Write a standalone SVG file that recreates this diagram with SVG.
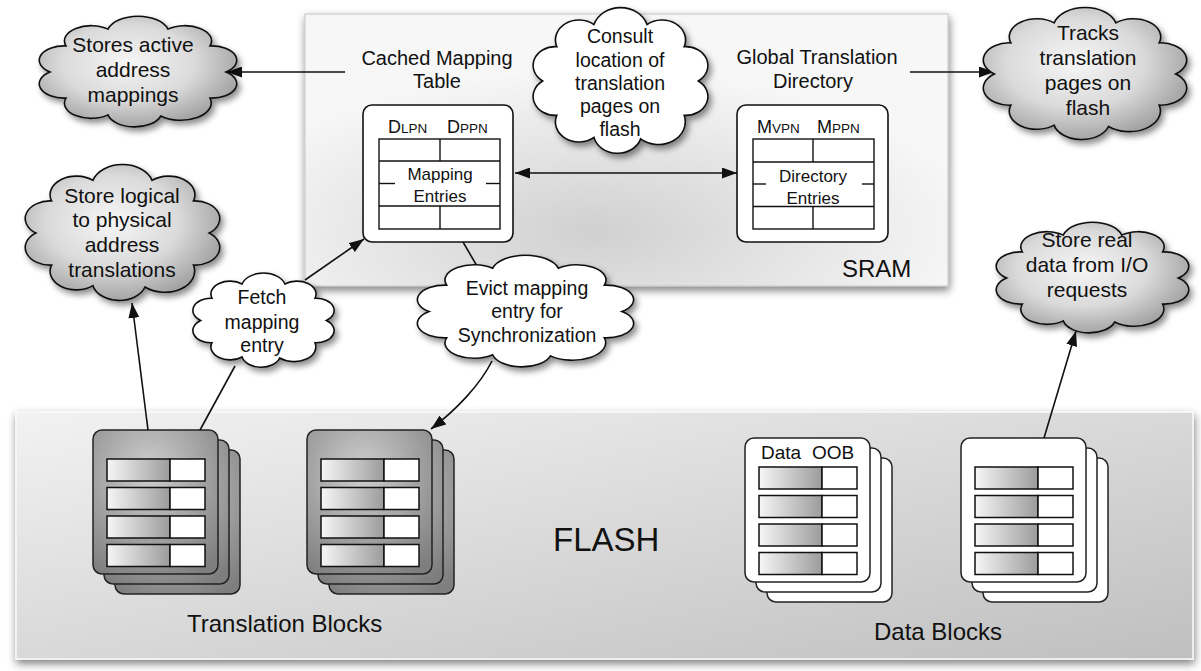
<svg xmlns="http://www.w3.org/2000/svg" xmlns:xlink="http://www.w3.org/1999/xlink" width="1201" height="671" viewBox="0 0 1201 671">
  <defs>
    <style>
      text { font-family: "Liberation Sans", Arial, Helvetica, sans-serif; fill: #111; }
      .ctext { font-size: 21px; text-anchor: middle; }
      .ctext-w { font-size: 19.5px; text-anchor: middle; }
      .title { font-size: 20px; text-anchor: middle; }
      .cell { font-size: 17px; text-anchor: middle; }
      .big { font-size: 24px; }
      .edge { fill: none; stroke: #111; stroke-width: 1.6; }
      .arrow { marker-end: url(#head); }
      .both { marker-start: url(#head); marker-end: url(#head); }
      .cloud-gray { fill: url(#gCloud); stroke: #111; stroke-width: 1.6; }
      .cloud-white { fill: #fff; stroke: #111; stroke-width: 1.6; }
      .panel { fill: #fff; stroke: #111; stroke-width: 1.6; }
      .tbl { fill: #fff; stroke: #111; stroke-width: 1.4; }
      .rule { stroke: #111; stroke-width: 1.4; }
      .card-t { fill: url(#gCard); stroke: #222; stroke-width: 1.5; }
      .card-d { fill: #fff; stroke: #222; stroke-width: 1.5; }
      .cell-l { fill: url(#gCell); stroke: #111; stroke-width: 1.5; }
      .cell-r { fill: #fff; stroke: #111; stroke-width: 1.5; }
    </style>

    <radialGradient id="gCloud" cx="0.45" cy="0.42" r="0.62">
      <stop offset="0" stop-color="#f6f6f6"/>
      <stop offset="0.55" stop-color="#dadada"/>
      <stop offset="1" stop-color="#9c9c9c"/>
    </radialGradient>
    <radialGradient id="gCard" cx="0.45" cy="0.3" r="0.8">
      <stop offset="0" stop-color="#cfcfcf"/>
      <stop offset="1" stop-color="#7e7e7e"/>
    </radialGradient>
    <linearGradient id="gCell" x1="0" y1="0" x2="1" y2="0">
      <stop offset="0" stop-color="#f6f6f6"/>
      <stop offset="1" stop-color="#9c9c9c"/>
    </linearGradient>
    <radialGradient id="gSram" cx="0.45" cy="0.8" r="0.6">
      <stop offset="0" stop-color="#d0d0d0"/>
      <stop offset="1" stop-color="#f7f7f7"/>
    </radialGradient>
    <linearGradient id="gFlash" x1="0" y1="0" x2="1" y2="1">
      <stop offset="0" stop-color="#f2f2f2"/>
      <stop offset="1" stop-color="#bfbfbf"/>
    </linearGradient>

    <filter id="shadow" x="-10%" y="-10%" width="130%" height="135%">
      <feDropShadow dx="3" dy="4" stdDeviation="3" flood-color="#000" flood-opacity="0.45"/>
    </filter>
    <filter id="boxShadow" x="-5%" y="-5%" width="110%" height="115%">
      <feDropShadow dx="1" dy="4" stdDeviation="4" flood-color="#000" flood-opacity="0.5"/>
    </filter>

    <marker id="head" viewBox="0 0 15 11" refX="15" refY="5.5" markerWidth="15" markerHeight="11" markerUnits="userSpaceOnUse" orient="auto-start-reverse">
      <path d="M0,0 L15,5.5 L0,11 Z" fill="#111"/>
    </marker>

    <!-- cloud outline in a 100x100 box, scaled per use -->
    <path id="cloudShape" vector-effect="non-scaling-stroke"
          d="M94,50 A12.6,12.6 0 0 1 86,72.9 A15.2,15.2 0 0 1 61.4,88.6 A13.7,13.7 0 0 1 35,87.6 A13.3,13.3 0 0 1 14,72.9 A12.6,12.6 0 0 1 6,50 A12.6,12.6 0 0 1 14,27.1 A13.3,13.3 0 0 1 35,12.4 A15.6,15.6 0 0 1 65,12.4 A13.3,13.3 0 0 1 86,27.1 A12.6,12.6 0 0 1 94,50 Z"/>

    <!-- four page rows of a block, relative to the front card -->
    <g id="rows">
      <rect class="cell-l" x="14" y="29" width="63" height="22"/>
      <rect class="cell-r" x="77" y="29" width="35" height="22"/>
      <rect class="cell-l" x="14" y="57.5" width="63" height="22"/>
      <rect class="cell-r" x="77" y="57.5" width="35" height="22"/>
      <rect class="cell-l" x="14" y="86" width="63" height="22"/>
      <rect class="cell-r" x="77" y="86" width="35" height="22"/>
      <rect class="cell-l" x="14" y="114.5" width="63" height="22"/>
      <rect class="cell-r" x="77" y="114.5" width="35" height="22"/>
    </g>
    <g id="stackT">
      <rect class="card-t" x="22" y="20" width="125" height="144" rx="9"/>
      <rect class="card-t" x="11" y="10" width="125" height="144" rx="9"/>
      <rect class="card-t" x="0" y="0" width="125" height="144" rx="9"/>
      <use xlink:href="#rows"/>
    </g>
    <g id="stackD">
      <rect class="card-d" x="22" y="20" width="125" height="144" rx="9"/>
      <rect class="card-d" x="11" y="10" width="125" height="144" rx="9"/>
      <rect class="card-d" x="0" y="0" width="125" height="144" rx="9"/>
      <use xlink:href="#rows"/>
    </g>
  </defs>

  <rect x="0" y="0" width="1201" height="671" fill="#fff"/>

  <!-- SRAM region -->
  <g id="sram">
    <rect x="305" y="14" width="643" height="272" fill="url(#gSram)" stroke="#c4c4c4" stroke-width="1" filter="url(#boxShadow)"/>
    <text x="842" y="277" class="big">SRAM</text>
  </g>

  <!-- FLASH region -->
  <g id="flash">
    <rect x="16" y="412" width="1177" height="247" fill="url(#gFlash)" stroke="#fafafa" stroke-width="1.5" filter="url(#boxShadow)"/>
    <text x="553" y="551" style="font-size:33px">FLASH</text>
  </g>

  <!-- Cached Mapping Table -->
  <g id="cmt">
    <text x="437" y="65" class="title">Cached Mapping</text>
    <text x="437" y="88" class="title">Table</text>
    <rect class="panel" x="363" y="105" width="150" height="137" rx="9"/>
    <text y="133"><tspan x="388" style="font-size:18px">D</tspan><tspan style="font-size:13.5px">LPN</tspan><tspan x="447" style="font-size:18px">D</tspan><tspan style="font-size:13.5px">PPN</tspan></text>
    <rect class="tbl" x="379" y="139" width="121" height="90"/>
    <line class="rule" x1="379" y1="161" x2="500" y2="161"/>
    <line class="rule" x1="379" y1="206" x2="500" y2="206"/>
    <line class="rule" x1="379" y1="183.5" x2="395" y2="183.5"/>
    <line class="rule" x1="486" y1="183.5" x2="500" y2="183.5"/>
    <line class="rule" x1="440" y1="139" x2="440" y2="161"/>
    <line class="rule" x1="440" y1="206" x2="440" y2="229"/>
    <text x="440" y="180" class="cell">Mapping</text>
    <text x="440" y="202" class="cell">Entries</text>
  </g>

  <!-- Global Translation Directory -->
  <g id="gtd">
    <text x="817" y="64" class="title">Global Translation</text>
    <text x="813" y="88" class="title">Directory</text>
    <rect class="panel" x="737" y="105" width="151" height="137" rx="9"/>
    <text y="133"><tspan x="757" style="font-size:18px">M</tspan><tspan style="font-size:13.5px">VPN</tspan><tspan x="817" style="font-size:18px">M</tspan><tspan style="font-size:13.5px">PPN</tspan></text>
    <rect class="tbl" x="753" y="139" width="121" height="90"/>
    <line class="rule" x1="753" y1="162" x2="874" y2="162"/>
    <line class="rule" x1="753" y1="206.5" x2="874" y2="206.5"/>
    <line class="rule" x1="753" y1="184" x2="766" y2="184"/>
    <line class="rule" x1="862" y1="184" x2="874" y2="184"/>
    <line class="rule" x1="813" y1="139" x2="813" y2="162"/>
    <line class="rule" x1="813" y1="206.5" x2="813" y2="229"/>
    <text x="813" y="182" class="cell">Directory</text>
    <text x="813" y="204" class="cell">Entries</text>
  </g>

  <!-- Flash blocks -->
  <g id="tblock1"><use xlink:href="#stackT" transform="translate(93,430)"/></g>
  <g id="tblock2"><use xlink:href="#stackT" transform="translate(307,430)"/></g>
  <text x="187" y="632" class="big">Translation Blocks</text>
  <g id="dblock1">
    <use xlink:href="#stackD" transform="translate(745,438)"/>
    <text y="459" style="font-size:19px"><tspan x="761">Data</tspan><tspan x="812">OOB</tspan></text>
  </g>
  <g id="dblock2"><use xlink:href="#stackD" transform="translate(961,438)"/></g>
  <text x="874" y="640" class="big">Data Blocks</text>

  <!-- Connectors -->
  <g id="connectors">
    <line class="edge arrow" x1="345" y1="72" x2="227" y2="72"/>
    <line class="edge arrow" x1="910" y1="72" x2="994" y2="72"/>
    <line class="edge both" x1="515" y1="173" x2="737" y2="173"/>
    <line class="edge arrow" x1="148" y1="430" x2="132" y2="303"/>
    <line class="edge" x1="200" y1="430" x2="235" y2="366"/>
    <line class="edge arrow" x1="305" y1="280" x2="364" y2="239"/>
    <path class="edge" d="M463,242 Q470,254 477,266"/>
    <path class="edge arrow" d="M492,361 C480,385 456,410 431,429"/>
    <line class="edge arrow" x1="1044" y1="438" x2="1076" y2="331"/>
  </g>

  <!-- Annotation clouds -->
  <g id="cloud-active">
    <g filter="url(#shadow)"><use xlink:href="#cloudShape" class="cloud-gray" transform="translate(38,15) scale(2,1.14)"/></g>
    <text x="133" y="52" class="ctext">Stores active</text>
    <text x="133" y="77" class="ctext">address</text>
    <text x="133" y="102" class="ctext">mappings</text>
  </g>
  <g id="cloud-logical">
    <g filter="url(#shadow)"><use xlink:href="#cloudShape" class="cloud-gray" transform="translate(24,163) scale(1.97,1.4)"/></g>
    <text x="122" y="203" class="ctext">Store logical</text>
    <text x="122" y="227" class="ctext">to physical</text>
    <text x="122" y="252" class="ctext">address</text>
    <text x="122" y="277" class="ctext">translations</text>
  </g>
  <g id="cloud-fetch">
    <g filter="url(#shadow)"><use xlink:href="#cloudShape" class="cloud-white" transform="translate(192,272) scale(1.43,0.97)"/></g>
    <text x="262" y="304" class="ctext-w">Fetch</text>
    <text x="262" y="329" class="ctext-w">mapping</text>
    <text x="262" y="352" class="ctext-w">entry</text>
  </g>
  <g id="cloud-consult">
    <g filter="url(#shadow)"><use xlink:href="#cloudShape" class="cloud-white" transform="translate(532,6) scale(1.77,1.5)"/></g>
    <text x="620" y="43" class="ctext-w">Consult</text>
    <text x="620" y="67" class="ctext-w">location of</text>
    <text x="620" y="90" class="ctext-w">translation</text>
    <text x="620" y="113" class="ctext-w">pages on</text>
    <text x="620" y="136" class="ctext-w">flash</text>
  </g>
  <g id="cloud-evict">
    <g filter="url(#shadow)"><use xlink:href="#cloudShape" class="cloud-white" transform="translate(416,254) scale(2.19,1.15)"/></g>
    <text x="527" y="295" class="ctext-w">Evict mapping</text>
    <text x="527" y="318" class="ctext-w">entry for</text>
    <text x="527" y="342" class="ctext-w">Synchronization</text>
  </g>
  <g id="cloud-tracks">
    <g filter="url(#shadow)"><use xlink:href="#cloudShape" class="cloud-gray" transform="translate(982,6) scale(2.06,1.36)"/></g>
    <text x="1088" y="40" class="ctext">Tracks</text>
    <text x="1088" y="65" class="ctext">translation</text>
    <text x="1088" y="90" class="ctext">pages on</text>
    <text x="1088" y="115" class="ctext">flash</text>
  </g>
  <g id="cloud-real">
    <g filter="url(#shadow)"><use xlink:href="#cloudShape" class="cloud-gray" transform="translate(995,221) scale(1.95,1.14)"/></g>
    <text x="1087" y="247" class="ctext">Store real</text>
    <text x="1087" y="272" class="ctext">data from I/O</text>
    <text x="1087" y="297" class="ctext">requests</text>
  </g>
</svg>
